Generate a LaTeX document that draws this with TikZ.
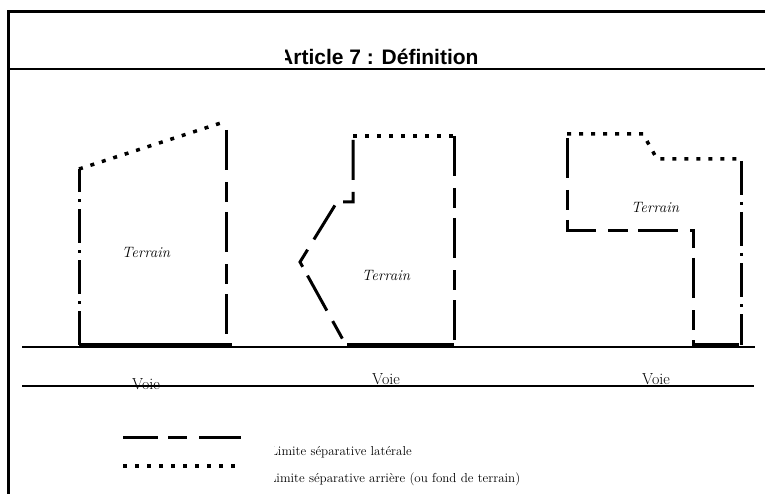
\documentclass[tikz,border=0pt]{standalone}
\usepackage{fontspec}
\newfontfamily\titrefont{Liberation Sans}
\tikzset{
    lateral/.style={line width=3pt,dash pattern=on 40pt off 12pt on 20pt off 10pt},
    fond/.style={line width=3.5pt,dash pattern=on 4pt off 8pt},
    mixte/.style={line width=3pt,dash pattern=on 34pt off 7pt on 3pt off 7pt},
    facade/.style={line width=3.5pt},
    voie/.style={line width=1.1pt},
    terrain/.style={font=\itshape\fontsize{15}{18}\selectfont},
    voielabel/.style={anchor=base,font=\fontsize{16}{18}\selectfont},
    legende/.style={anchor=base west,font=\fontsize{13}{15}\selectfont}
}
\begin{document}
\begin{tikzpicture}[x=1pt,y=-1pt]
                \useasboundingbox (0,0) rectangle (765,494);
                % cadre et titre
                \draw[line width=3pt] (8,494) -- (8,12) -- (765,12);
                \draw[line width=1.4pt] (8,69) -- (765,69);
                \begin{scope}
                    \clip (285,20) rectangle (765,68);
                    \node[anchor=base west,inner sep=0pt,font=\titrefont\bfseries\fontsize{21}{24}\selectfont] (titre) at (278,65) {Article 7 : Définition};
                \end{scope}
                % voies
                \draw[voie] (22,347) -- (755,347);
                \draw[voie] (22,386) -- (754,386);
                \foreach \x/\b/\n in {146/389/1,386/384/2,656/384/3}{
                    \node[voielabel] (voie\n) at (\x,\b) {Voie};
                }
                % terrain 1
                \draw[mixte] (79,345) -- (79,169);
                \draw[fond] (79,169) -- (227,121);
                \draw[lateral] (226,130) -- (226,345);
                \draw[facade] (79,345) -- (232,345);
                \node[terrain] (terrain1) at (146,252) {Terrain};
                % terrain 2
                \draw[fond] (353,136) -- (454,136);
                \draw[lateral] (454,136) -- (454,345);
                \draw[lateral] (353,140) -- (353,202) -- (337,202) -- (300,262) -- (347,347);
                \draw[facade] (347,345) -- (454,345);
                \node[terrain] (terrain2) at (386,275) {Terrain};
                % terrain 3
                \draw[fond] (567,134) -- (643,134) -- (657,159) -- (741,159);
                \draw[lateral] (567,138) -- (567,231) -- (693,231) -- (693,347);
                \draw[mixte] (741,161) -- (741,345);
                \draw[facade] (693,345) -- (739,345);
                \node[terrain] (terrain3) at (655,207) {Terrain};
                % legende
                \draw[lateral,dash pattern=on 35pt off 10pt on 19pt off 12pt on 42pt] (123,437) -- (241,437);
                \draw[fond] (123,466) -- (241,466);
                \begin{scope}
                    \clip (274,425) rectangle (765,494);
                    \node[legende] (lat) at (266.5,455) {Limite séparative latérale};
                    \node[legende] (arr) at (265,482) {Limite séparative arrière (ou fond de terrain)};
                \end{scope}
\end{tikzpicture}
\end{document}
